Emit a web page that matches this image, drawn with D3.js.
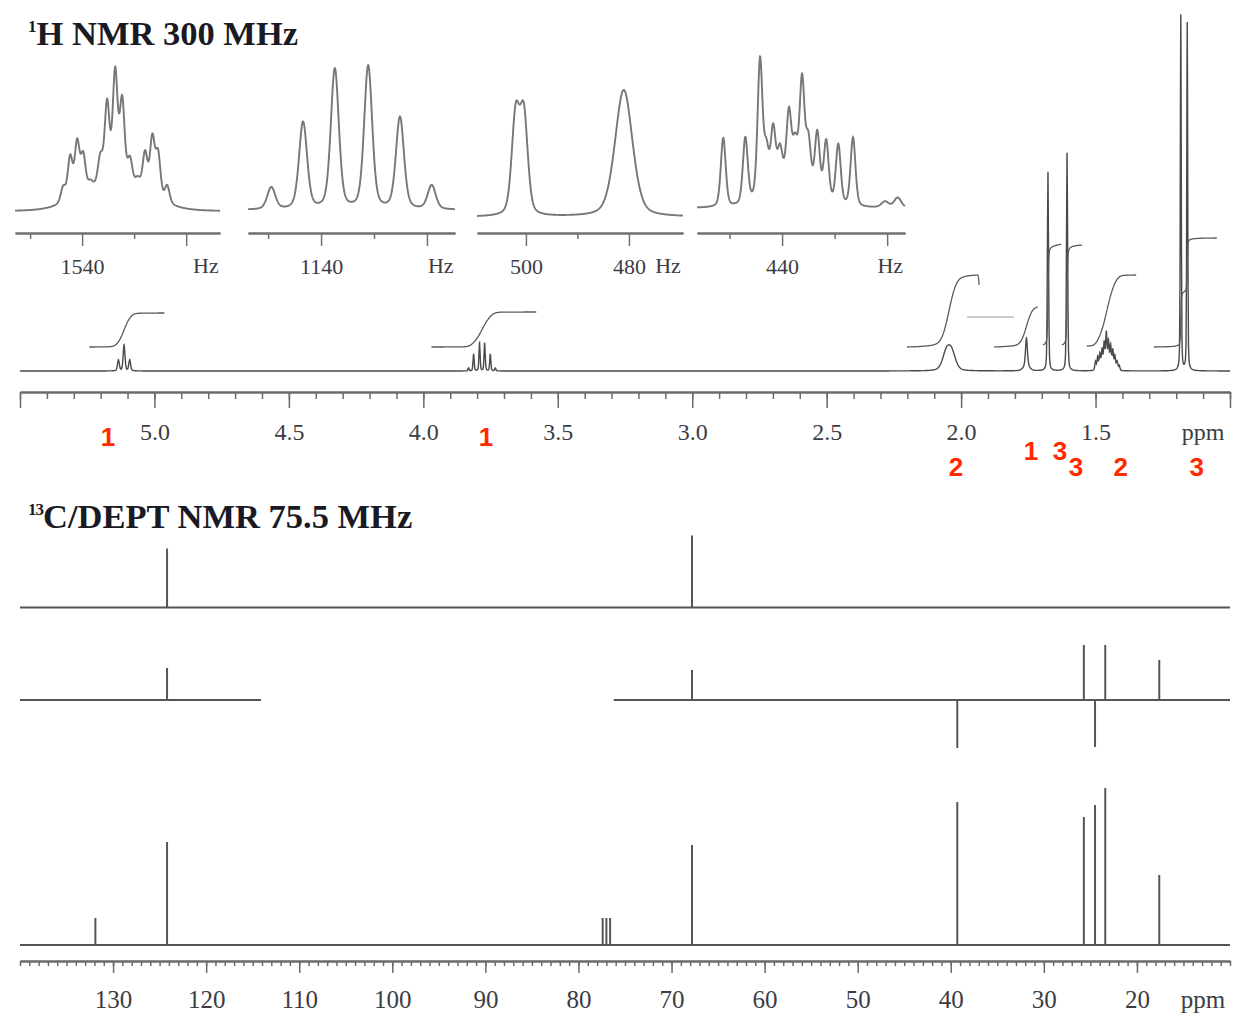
<!DOCTYPE html>
<html><head><meta charset="utf-8">
<script src="https://cdn.jsdelivr.net/npm/d3@7"></script>
<style>body{margin:0;background:#fff} svg{display:block}</style>
</head><body>
<svg id="c" width="1236" height="1016"></svg>
<script>
// ================= DATA =================
// 1H main spectrum peaks: c = ppm, h = intensity, w = half width (ppm), e = lorentz fraction
const h1Domain = [5.5, 1.0];
const h1Peaks = [
  {c:5.134,h:11,w:0.004},{c:5.113,h:26,w:0.004},{c:5.092,h:11,w:0.004},
  {c:3.832,h:3,w:0.0025},{c:3.813,h:17,w:0.0025},{c:3.791,h:28,w:0.0025},
  {c:3.772,h:28,w:0.0025},{c:3.751,h:17,w:0.0025},{c:3.732,h:3,w:0.0025},
  {c:2.055,h:17,w:0.017},{c:2.035,h:17,w:0.017},
  {c:1.757,h:27,w:0.004},{c:1.757,h:6,w:0.012},
  {c:1.677,h:199,w:0.0025},
  {c:1.606,h:218,w:0.0025},
  {c:1.500,h:9,w:0.003},{c:1.492,h:13,w:0.003},{c:1.484,h:16,w:0.003},{c:1.476,h:20,w:0.003},
  {c:1.468,h:27,w:0.003},{c:1.460,h:37,w:0.003},{c:1.452,h:28,w:0.003},{c:1.444,h:24,w:0.003},
  {c:1.436,h:20,w:0.003},{c:1.428,h:14,w:0.003},{c:1.420,h:9,w:0.003},{c:1.412,h:5,w:0.003},
  {c:1.183,h:356,w:0.002},{c:1.159,h:348,w:0.002}
];
// integral traces: from/to ppm, low/high levels (intensity units)
const h1Integrals = [
  {from:5.242,to:4.963,low:24,high:58},
  {from:3.970,to:3.580,low:24,high:59},
  {from:2.201,to:1.937,low:24,high:96,tail:86},
  {from:1.877,to:1.715,low:24,high:64},
  {from:1.695,to:1.628,low:26,high:127},
  {from:1.625,to:1.550,low:26,high:126},
  {from:1.532,to:1.349,low:25,high:96},
  {from:1.283,to:1.049,low:24,high:133}
];
const h1IntegralMarks = [{from:1.978,to:1.803,level:54}];
const h1MajorTicks = [5.5,5.0,4.5,4.0,3.5,3.0,2.5,2.0,1.5,1.0];
const h1TickLabels = ["","5.0","4.5","4.0","3.5","3.0","2.5","2.0","1.5",""];
const h1MinorTicks = d3.range(10,56).map(v=>v/10);
const redLabels = [
  {t:"1",ppm:5.173,row:0},{t:"1",ppm:3.767,row:0},{t:"2",ppm:2.019,row:2},
  {t:"1",ppm:1.740,row:1},{t:"3",ppm:1.632,row:1},{t:"3",ppm:1.573,row:2},
  {t:"2",ppm:1.406,row:2},{t:"3",ppm:1.124,row:2}
];

// Insets (Hz)
const insetDomains = [[1552.9,1513.5],[1153.8,1114.7],[509.5,469.5],[456.2,416.6]];
const insetOffsets = [0,1,-6,3];
const inset1Peaks = [
  {c:1533.7,h:26,w:7,e:0},
  {c:1543.65,h:15,w:0.55},{c:1542.3,h:42,w:0.55},{c:1540.96,h:53,w:0.55},{c:1539.8,h:37,w:0.55},
  {c:1538.4,h:7,w:0.55},{c:1536.5,h:27,w:0.55},{c:1535.2,h:79,w:0.55},{c:1533.65,h:109,w:0.55},
  {c:1532.3,h:81,w:0.55},{c:1530.8,h:25,w:0.55},{c:1529.3,h:9,w:0.55},{c:1527.9,h:39,w:0.55},
  {c:1526.5,h:57,w:0.55},{c:1525.4,h:44,w:0.55},{c:1523.65,h:17,w:0.55}
];
const inset2Peaks = [
  {c:1149.4,h:22,w:0.9},{c:1143.4,h:87,w:0.9},{c:1137.4,h:140,w:0.9},
  {c:1131.1,h:143,w:0.9},{c:1125.1,h:92,w:0.9},{c:1119.1,h:24,w:0.9}
];
const inset3Peaks = [
  {c:502.0,h:98,w:0.9},{c:500.4,h:98,w:0.9},{c:481.0,h:127,w:2.0}
];
const inset4Peaks = [
  {c:438.5,h:25,w:4.5,e:0},
  {c:451.2,h:69,w:0.55},{c:447.0,h:66,w:0.55},{c:444.2,h:137,w:0.55},{c:443.0,h:40,w:0.55},
  {c:441.7,h:58,w:0.55},{c:440.4,h:33,w:0.55},{c:438.7,h:68,w:0.55},{c:437.5,h:36,w:0.55},
  {c:436.2,h:104,w:0.55},{c:435.0,h:47,w:0.55},{c:433.3,h:62,w:0.55},{c:431.6,h:59,w:0.55},
  {c:429.3,h:60,w:0.55},{c:426.5,h:69,w:0.55},{c:420.4,h:6,w:0.8},{c:418.0,h:10,w:0.8}
];
const insetPeaks = [inset1Peaks, inset2Peaks, inset3Peaks, inset4Peaks];
const insetMajorTicks = [[1540,1520],[1140,1120],[500,480],[440,420]];
const insetMinorTicks = [[1550,1530],[1150,1130],[490],[450,430]];
const insetTickLabels = [[1540],[1140],[500,480],[440]];
const insetUnitPos = [1516.2,1117.4,472.4,419.4];

// 13C (ppm, intensity)
const c13Domain = [140, 10];
const c13Top = [{c:124.2,h:59},{c:67.8,h:72}];
const c13Mid = [{c:124.2,h:32},{c:67.8,h:30},{c:39.3,h:-48},{c:25.7,h:55},{c:24.5,h:-47},{c:23.4,h:55},{c:17.6,h:40}];
const c13MidGaps = [[114.1,76.2]];
const c13Bottom = [{c:131.9,h:27},{c:124.2,h:103},{c:77.4,h:27},{c:77.0,h:27},{c:76.6,h:27},{c:67.8,h:100},
  {c:39.3,h:143},{c:25.7,h:128},{c:24.5,h:140},{c:23.4,h:157},{c:17.6,h:70}];
const c13MajorTicks = [130,120,110,100,90,80,70,60,50,40,30,20];
const c13MinorTicks = d3.range(10,141);

// ================= DRAW =================
const svg = d3.select("#c");
const serif = "'Liberation Serif','Times New Roman',serif";
const sans = "'Liberation Sans',Arial,sans-serif";
const integralSmooth = [0.012,0.010,0.010,0.015,0,0,0.008,0]; // drawing smoothness (ppm)
const pv = (x,p) => { const e = (p.e===undefined)?0.35:p.e; const r=(x-p.c)/p.w, r2=r*r;
  return p.h*(e/(1+r2)+(1-e)*Math.exp(-Math.LN2*r2)); };
const spec = (x,peaks) => { let s=0; for (const p of peaks) s+=pv(x,p); return s; };
function samples(a,b,n,peaks){
  const pts = d3.range(n+1).map(i=>a+(b-a)*i/n);
  if (peaks) peaks.forEach(p=>{ if((p.c-a)*(p.c-b)<=0) pts.push(p.c); });
  return pts.sort((u,v)=> b>a ? u-v : v-u);
}

// Titles
const t1 = svg.append("text").attr("x",28).attr("y",45).attr("font-family",serif).attr("font-weight","bold").attr("fill","#1a1a24");
t1.append("tspan").attr("font-size",17).attr("dy",-13).text("1");
t1.append("tspan").attr("font-size",34.5).attr("dy",13).text("H NMR 300 MHz");
const t2 = svg.append("text").attr("x",28).attr("y",528).attr("font-family",serif).attr("font-weight","bold").attr("fill","#1a1a24");
t2.append("tspan").attr("font-size",17).attr("dy",-13).attr("letter-spacing",-1).text("13");
t2.append("tspan").attr("font-size",34.5).attr("dy",13).text("C/DEPT NMR 75.5 MHz");

// ---- 1H main ----
const xH = d3.scaleLinear().domain(h1Domain).range([20,1230]);
const yH = d3.scaleLinear().domain([0,356]).range([371,15]);
const h1Pts = samples(h1Domain[0],h1Domain[1],2420,h1Peaks);
svg.append("path").attr("d", d3.line().x(d=>xH(d)).y(d=>yH(spec(d,h1Peaks)))(h1Pts))
  .attr("fill","none").attr("stroke","#4a4a4a").attr("stroke-width",1.4);

h1Integrals.forEach((I,k)=>{
  const s = integralSmooth[k];
  const pts = s>0 ? samples(I.from,I.to,2000) : samples(I.from,I.to,600,h1Peaks);
  const vals = pts.map(p=>spec(p,h1Peaks));
  let cum=[0];
  for(let i=1;i<pts.length;i++) cum.push(cum[i-1]+0.5*(vals[i]+vals[i-1])*Math.abs(pts[i]-pts[i-1]));
  if (s>0) {
    const dx = Math.abs(pts[1]-pts[0]), sig = s/dx, R = Math.ceil(3*sig);
    const kern = d3.range(-R,R+1).map(j=>Math.exp(-0.5*(j/sig)**2)); const ks = d3.sum(kern);
    const n = cum.length;
    cum = cum.map((_,i)=>{ let a=0; for(let j=-R;j<=R;j++){ const q=Math.min(n-1,Math.max(0,i+j)); a+=cum[q]*kern[j+R]; } return a/ks; });
  }
  const c0 = cum[0], tot = (cum[cum.length-1]-c0)||1;
  const data = pts.map((p,i)=>[p, I.low+(I.high-I.low)*(cum[i]-c0)/tot]);
  if (I.tail!==undefined) data.push([I.to-0.004, I.tail]);
  svg.append("path").attr("d", d3.line().x(d=>xH(d[0])).y(d=>yH(d[1])).curve(d3.curveMonotoneX)(data))
    .attr("fill","none").attr("stroke","#5a5a5a").attr("stroke-width",1.3);
});
h1IntegralMarks.forEach(m=>{
  svg.append("line").attr("x1",xH(m.from)).attr("x2",xH(m.to)).attr("y1",yH(m.level)).attr("y2",yH(m.level))
    .attr("stroke","#9a9a9a").attr("stroke-width",1.2);
});

// 1H axis
function styleAxis(g, col, w){
  g.select(".domain").attr("stroke",col).attr("stroke-width",w);
  g.selectAll(".tick line").attr("stroke",col).attr("stroke-width",1.5);
}
const gH = svg.append("g").attr("transform","translate(0,392)");
gH.append("g").call(d3.axisBottom(xH).tickValues(h1MinorTicks).tickSize(7).tickSizeOuter(0).tickFormat(""))
  .call(g=>styleAxis(g,"#6a6a6a",2));
gH.append("g").call(d3.axisBottom(xH).tickValues(h1MajorTicks).tickSize(16).tickSizeOuter(0).tickPadding(15)
  .tickFormat((d,i)=>h1TickLabels[i]))
  .call(g=>{ styleAxis(g,"#6a6a6a",2); g.selectAll("text").attr("font-family",serif).attr("font-size",24).attr("fill","#3c3c44"); });
svg.append("text").attr("x",1203).attr("y",440).attr("text-anchor","middle").attr("font-family",serif)
  .attr("font-size",24).attr("fill","#3c3c44").text("ppm");

// red labels
const rowY = [437,451,467];
svg.selectAll("text.red").data(redLabels).enter().append("text").attr("class","red")
  .attr("x",d=>xH(d.ppm)).attr("y",d=>rowY[d.row]).attr("dy","0.36em").attr("text-anchor","middle")
  .attr("font-family",sans).attr("font-weight","bold").attr("font-size",26).attr("fill","#ff2a00").text(d=>d.t);

// ---- Insets ----
const insetBoxes = [[15,220],[248,455],[477,683],[697,905]];
const yI = d3.scaleLinear().domain([0,150]).range([211,61]);
insetDomains.forEach((dom,k)=>{
  const xs = d3.scaleLinear().domain(dom).range(insetBoxes[k]);
  const pk = insetPeaks[k];
  const pts = samples(dom[0],dom[1],700,pk);
  svg.append("path").attr("d", d3.line().x(d=>xs(d)).y(d=>yI(spec(d,pk)+insetOffsets[k]))(pts))
    .attr("fill","none").attr("stroke","#777").attr("stroke-width",1.9);
  const g = svg.append("g").attr("transform","translate(0,233)");
  g.append("g").call(d3.axisBottom(xs).tickValues(insetMinorTicks[k]).tickSize(6).tickSizeOuter(0).tickFormat(""))
    .call(a=>styleAxis(a,"#707070",2.2));
  g.append("g").call(d3.axisBottom(xs).tickValues(insetMajorTicks[k]).tickSize(13).tickSizeOuter(0).tickPadding(12)
    .tickFormat(d=>insetTickLabels[k].includes(d)?String(d):""))
    .call(a=>{ styleAxis(a,"#707070",2.2); a.selectAll("text").attr("font-family",serif).attr("font-size",22).attr("fill","#3c3c44"); });
  svg.append("text").attr("x",xs(insetUnitPos[k])).attr("y",273).attr("text-anchor","middle")
    .attr("font-family",serif).attr("font-size",22).attr("fill","#3c3c44").text("Hz");
});

// ---- 13C ----
const xC = d3.scaleLinear().domain(c13Domain).range([20,1230]);
const yC = d3.scaleLinear().domain([0,100]).range([0,-100]);
const traces = [
  {peaks:c13Top, base:607.5, gaps:[]},
  {peaks:c13Mid, base:700, gaps:c13MidGaps},
  {peaks:c13Bottom, base:945, gaps:[]}
];
traces.forEach(tr=>{
  const g = svg.append("g").attr("transform",`translate(0,${tr.base})`);
  let segs=[[c13Domain[0],c13Domain[1]]];
  tr.gaps.forEach(gp=>{ segs = segs.flatMap(s=> (gp[0]<=s[0] && gp[1]>=s[1]) ? [[s[0],gp[0]],[gp[1],s[1]]] : [s]); });
  g.selectAll("line.base").data(segs).enter().append("line").attr("class","base")
    .attr("x1",d=>xC(d[0])).attr("x2",d=>xC(d[1])).attr("y1",0).attr("y2",0)
    .attr("stroke","#555").attr("stroke-width",2);
  g.selectAll("line.pk").data(tr.peaks).enter().append("line").attr("class","pk")
    .attr("x1",d=>xC(d.c)).attr("x2",d=>xC(d.c)).attr("y1",0).attr("y2",d=>yC(d.h))
    .attr("stroke","#555").attr("stroke-width",2);
});
const gC = svg.append("g").attr("transform","translate(0,961)");
gC.append("g").call(d3.axisBottom(xC).tickValues(c13MinorTicks).tickSize(5).tickSizeOuter(0).tickFormat(""))
  .call(g=>styleAxis(g,"#6a6a6a",2));
gC.append("g").call(d3.axisBottom(xC).tickValues(c13MajorTicks).tickSize(12).tickSizeOuter(0).tickPadding(17).tickFormat(d3.format("d")))
  .call(g=>{ styleAxis(g,"#6a6a6a",2); g.selectAll("text").attr("font-family",serif).attr("font-size",25).attr("fill","#3c3c44"); });
svg.append("text").attr("x",1203).attr("y",1008).attr("text-anchor","middle").attr("font-family",serif)
  .attr("font-size",25).attr("fill","#3c3c44").text("ppm");
</script>
</body></html>
